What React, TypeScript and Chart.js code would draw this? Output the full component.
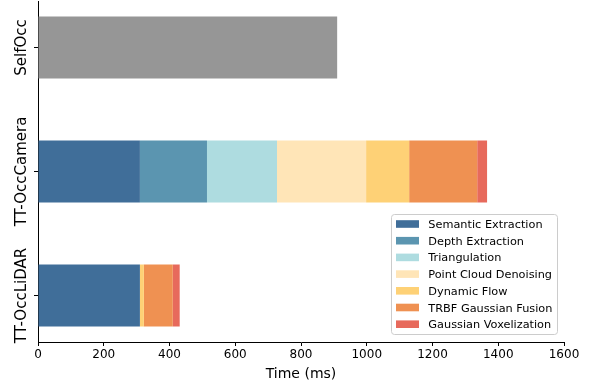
import React, { useEffect, useRef } from "react";
import { Chart, registerables } from "chart.js";

Chart.register(...registerables);

// ---- data ----
const categories = ["TT-OccLiDAR", "TT-OccCamera", "SelfOcc"];
const stageNames = [
  "Semantic Extraction",
  "Depth Extraction",
  "Triangulation",
  "Point Cloud Denoising",
  "Dynamic Flow",
  "TRBF Gaussian Fusion",
  "Gaussian Voxelization",
];
// values per category [LiDAR, Camera, SelfOcc] in ms
const semanticExtraction = [310, 310, 0];
const depthExtraction = [0, 204, 0];
const triangulation = [0, 213, 0];
const pointCloudDenoising = [0, 271, 0];
const dynamicFlow = [12, 131, 0];
const trbfGaussianFusion = [88, 207, 0];
const gaussianVoxelization = [21, 30, 0];
const selfOccTotal = [0, 0, 910];
const xTicks = [0, 200, 400, 600, 800, 1000, 1200, 1400, 1600];

const stageValues = [
  semanticExtraction,
  depthExtraction,
  triangulation,
  pointCloudDenoising,
  dynamicFlow,
  trbfGaussianFusion,
  gaussianVoxelization,
];
const stageColors = [
  "#406e99",
  "#5b95b0",
  "#aedce0",
  "#ffe5b7",
  "#fed176",
  "#ef9152",
  "#e76a5c",
];
const FONT = "'DejaVu Sans', sans-serif";

const yLabelPlugin = {
  id: "yLabelPlugin",
  afterDraw(chart: any) {
    const { ctx } = chart;
    const ys = chart.scales.y;
    ctx.save();
    ctx.fillStyle = "#000";
    ctx.font = `15px ${FONT}`;
    ctx.textAlign = "center";
    ctx.textBaseline = "alphabetic";
    categories.forEach((c, i) => {
      const y = ys.getPixelForValue(i);
      ctx.save();
      ctx.translate(25.5, y);
      ctx.rotate(-Math.PI / 2);
      ctx.fillText(c, 0, 0);
      ctx.restore();
    });
    ctx.restore();
  },
};

const legendPlugin = {
  id: "boxLegend",
  afterDraw(chart: any) {
    const { ctx } = chart;
    const x0 = 391.5,
      y0 = 214.5,
      w = 166,
      h = 120;
    ctx.save();
    ctx.beginPath();
    (ctx as any).roundRect(x0, y0, w, h, 3);
    ctx.fillStyle = "rgba(255,255,255,0.8)";
    ctx.fill();
    ctx.strokeStyle = "#cccccc";
    ctx.lineWidth = 1;
    ctx.stroke();
    ctx.font = `11.3px ${FONT}`;
    ctx.textAlign = "left";
    ctx.textBaseline = "alphabetic";
    const items = chart.data.datasets.filter((d: any) => stageNames.includes(d.label));
    items.forEach((d: any, i: number) => {
      const cy = 224 + i * 16.7;
      ctx.fillStyle = d.backgroundColor;
      ctx.fillRect(396, cy - 3.8, 23, 7.6);
      ctx.fillStyle = "#000";
      ctx.fillText(d.label, 428.3, cy + 4);
    });
    ctx.restore();
  },
};

export default function App() {
  const ref = useRef<HTMLCanvasElement>(null);
  useEffect(() => {
    document.body.style.margin = "0";
    if (!ref.current) return;
    const datasets: any[] = stageNames.map((name, k) => ({
      label: name,
      data: stageValues[k].map((v, i) => ({ x: v, y: i })),
      backgroundColor: stageColors[k],
      borderWidth: 0,
      barPercentage: 0.5,
      categoryPercentage: 1,
    }));
    datasets.push({
      label: "SelfOcc",
      data: selfOccTotal.map((v, i) => ({ x: v, y: i })),
      backgroundColor: "#969696",
      borderWidth: 0,
      barPercentage: 0.5,
      categoryPercentage: 1,
    });
    const chart = new Chart(ref.current, {
      type: "bar",
      data: { datasets },
      plugins: [yLabelPlugin, legendPlugin],
      options: {
        indexAxis: "y",
        animation: false,
        responsive: false,
        devicePixelRatio: 1,
        layout: { padding: { top: 1, right: 25, left: 0, bottom: 0 } },
        plugins: { legend: { display: false }, tooltip: { enabled: false } },
        scales: {
          x: {
            type: "linear",
            stacked: true,
            min: 0,
            max: 1600,
            afterBuildTicks: (s: any) => {
              s.ticks = xTicks.map((v) => ({ value: v }));
            },
            afterFit: (s: any) => {
              s.height = 45;
            },
            ticks: {
              font: { family: FONT, size: 12 },
              color: "#000",
              padding: 2,
              maxRotation: 0,
              callback: (v: any) => String(v),
            },
            grid: {
              drawOnChartArea: false,
              drawTicks: true,
              tickLength: 4,
              color: "#000",
            },
            border: { display: true, color: "#000", width: 1 },
            title: {
              display: true,
              text: "Time (ms)",
              color: "#000",
              font: { family: FONT, size: 14 },
              padding: { top: 0, bottom: 4 },
            },
          },
          y: {
            type: "linear",
            stacked: true,
            offset: false,
            min: -0.375,
            max: 2.375,
            afterBuildTicks: (s: any) => {
              s.ticks = categories.map((_, i) => ({ value: i }));
            },
            afterFit: (s: any) => {
              s.width = 38;
            },
            ticks: { display: false },
            grid: {
              offset: false,
              drawOnChartArea: false,
              drawTicks: true,
              tickLength: 4,
              color: "#000",
            },
            border: { display: true, color: "#000", width: 1 },
          },
        },
      },
    });
    return () => chart.destroy();
  }, []);
  return (
    <div style={{ width: 589, height: 387 }}>
      <canvas ref={ref} width={589} height={387} style={{ display: "block" }} />
    </div>
  );
}
